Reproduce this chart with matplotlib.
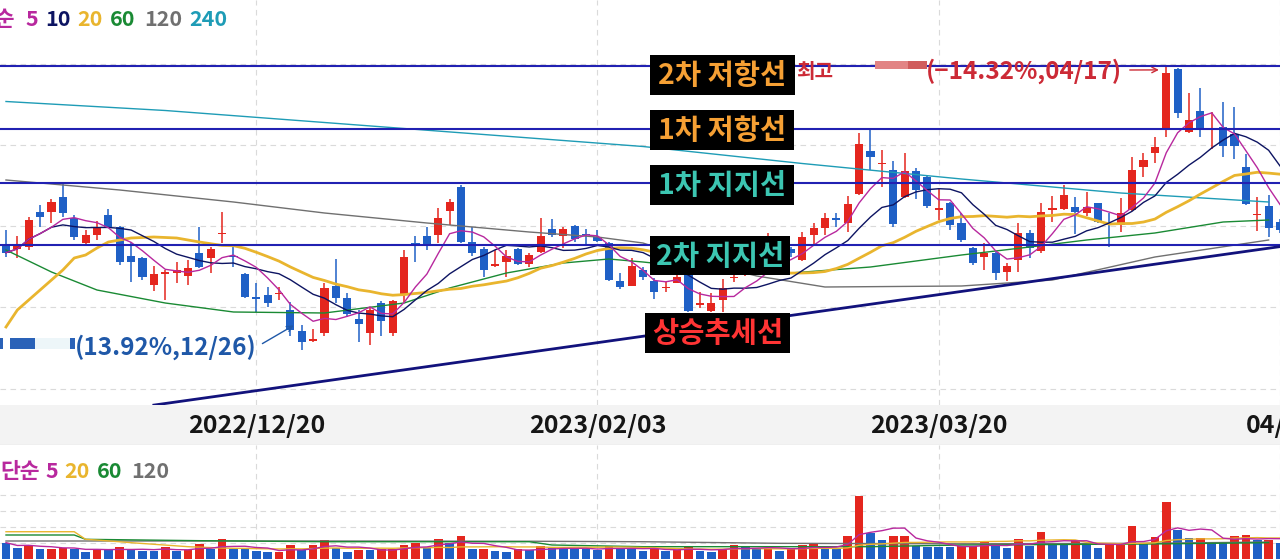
import numpy as np
import pandas as pd
import matplotlib
matplotlib.use("Agg")
import matplotlib.pyplot as plt
from matplotlib.patches import Rectangle
from matplotlib.lines import Line2D
from matplotlib.transforms import blended_transform_factory

plt.rcParams['font.family'] = ['Noto Sans CJK KR', 'DejaVu Sans']

# daily candles, trading-day index 0..112
opens = [9680, 9627, 9647, 10003, 10003, 10153, 9943, 9687, 9770, 9970,
         9853, 9560, 9537, 9270, 9380, 9387, 9360, 9593, 9537, 9777,
         9560, 9380, 9147, 9170, 9180, 9020, 8813, 8713, 8787, 9260,
         9137, 8930, 8787, 9087, 8787, 9170, 9693, 9763, 9770, 10013,
         10247, 9703, 9627, 9460, 9503, 9627, 9480, 9603, 9827, 9760,
         9860, 9780, 9753, 9693, 9310, 9263, 9420, 9313, 9237, 9293,
         9387, 9070, 9013, 9120, 9337, 9387, 9453, 9420, 9537, 9627,
         9520, 9770, 9837, 9937, 9893, 10180, 10613, 10480, 10420, 10153,
         10413, 10347, 10020, 10087, 9893, 9637, 9553, 9587, 9403, 9520,
         9793, 9613, 10020, 10027, 10047, 9987, 10087, 9893, 9870, 10020,
         10453, 10593, 10827, 11427, 10803, 11013, 10820, 10853, 10780, 10447,
         9970, 10060, 9900]
highs = [9820, 9760, 9953, 10070, 10127, 10280, 9970, 9820, 9913, 10027,
         9860, 9703, 9547, 9460, 9420, 9503, 9520, 9853, 9653, 10003,
         9670, 9387, 9287, 9253, 9253, 9103, 8870, 8827, 9287, 9527,
         9193, 9020, 9053, 9113, 9120, 9620, 9760, 9853, 10037, 10127,
         10270, 9847, 9647, 9620, 9620, 9637, 9587, 9943, 9927, 9853,
         9870, 9827, 9820, 9703, 9387, 9537, 9453, 9337, 9303, 9387,
         9420, 9203, 9187, 9327, 9387, 9487, 9520, 9787, 9670, 9653,
         9803, 9893, 9987, 9993, 10160, 10787, 10820, 10620, 10513, 10587,
         10437, 10360, 10227, 10103, 9987, 9653, 9687, 9603, 9493, 9893,
         9820, 10087, 10160, 10270, 10153, 10203, 10093, 9987, 10137, 10547,
         10587, 10747, 11461, 11437, 11193, 11237, 11003, 11103, 11053, 10580,
         10147, 10170, 9930]
lows = [9547, 9537, 9620, 9853, 9893, 9953, 9720, 9660, 9720, 9837,
        9470, 9303, 9320, 9213, 9120, 9287, 9270, 9437, 9387, 9687,
        9447, 9137, 9003, 9053, 9120, 8760, 8620, 8703, 8760, 9087,
        8953, 8703, 8670, 8760, 8760, 9103, 9503, 9620, 9687, 9870,
        9687, 9560, 9353, 9453, 9353, 9470, 9453, 9593, 9753, 9637,
        9703, 9680, 9703, 9313, 9230, 9263, 9320, 9127, 9203, 9287,
        9003, 9037, 9003, 9003, 9303, 9360, 9387, 9403, 9520, 9553,
        9513, 9680, 9770, 9853, 9803, 10170, 10420, 10253, 9853, 10137,
        10127, 10037, 9920, 9820, 9703, 9470, 9420, 9320, 9313, 9403,
        9537, 9587, 9903, 10020, 9777, 9960, 9887, 9647, 9803, 10013,
        10353, 10493, 10753, 10937, 10793, 10747, 10627, 10553, 10527, 10070,
        9813, 9753, 9790]
closes = [9593, 9670, 9920, 9953, 10103, 9987, 9753, 9770, 9853, 9853,
          9503, 9503, 9347, 9380, 9403, 9420, 9437, 9447, 9627, 9787,
          9547, 9147, 9127, 9093, 9193, 8820, 8703, 8727, 9237, 9137,
          8980, 8880, 9020, 8913, 9110, 9553, 9660, 9660, 9943, 10097,
          9703, 9593, 9420, 9477, 9560, 9480, 9570, 9760, 9770, 9827,
          9730, 9767, 9713, 9320, 9247, 9460, 9347, 9203, 9253, 9347,
          9013, 9087, 9087, 9237, 9353, 9453, 9420, 9537, 9620, 9587,
          9753, 9837, 9937, 9920, 10080, 10680, 10547, 10493, 9880, 10413,
          10220, 10060, 10037, 9870, 9720, 9493, 9587, 9387, 9460, 9787,
          9637, 10003, 10037, 10170, 10003, 10047, 9903, 9870, 9987, 10420,
          10520, 10647, 11387, 10987, 10920, 10827, 10837, 10660, 10660, 10080,
          9980, 9837, 9820]
volumes = [204, 134, 175, 125, 128, 134, 125, 91, 125, 112,
           146, 121, 104, 101, 154, 104, 112, 184, 121, 246,
           125, 122, 104, 88, 91, 171, 112, 171, 237, 134,
           91, 112, 109, 121, 125, 171, 204, 134, 246, 196,
           287, 121, 125, 104, 91, 125, 112, 162, 134, 130,
           125, 121, 112, 166, 134, 130, 104, 125, 104, 112,
           162, 104, 91, 121, 175, 162, 125, 129, 104, 125,
           175, 184, 134, 130, 287, 787, 329, 237, 287, 291,
           166, 154, 150, 146, 162, 166, 216, 162, 134, 246,
           166, 341, 196, 192, 237, 175, 141, 175, 179, 412,
           184, 271, 716, 362, 259, 262, 216, 204, 291, 300,
           237, 241, 200]

ma20_head_idx = [0, 1, 3, 5, 6, 7, 8, 9, 11, 13, 15, 17]
ma20_head = [8850, 9020, 9220, 9420, 9540, 9570, 9640, 9700, 9740, 9750, 9740, 9700]
ma60_idx = [0, 4, 8, 14, 20, 28, 35, 39, 44, 49, 53, 56, 61, 69, 76, 84, 90, 95, 101, 107, 111]
ma60 = [9620, 9400, 9220, 9090, 9000, 8990, 9090, 9240, 9390, 9490, 9530, 9500, 9440,
        9390, 9450, 9570, 9650, 9720, 9790, 9900, 9920]
ma120_idx = [0, 10, 20, 28, 37, 46, 52, 56, 61, 66, 72, 84, 92, 101, 111]
ma120 = [10320, 10220, 10100, 9990, 9890, 9800, 9750, 9690, 9500, 9360, 9250, 9260, 9320, 9550, 9720]
ma240_idx = [0, 14, 28, 42, 56, 70, 84, 98, 111]
ma240 = [11105, 11015, 10895, 10775, 10655, 10485, 10330, 10190, 10100]

vma20_head_idx = [0, 6, 7, 8, 11, 16]
vma20_head = [341, 341, 246, 237, 204, 154]
vma60_idx = [0, 6, 7, 17, 28, 46, 48, 56, 76, 84, 100, 111]
vma60 = [300, 300, 246, 229, 216, 216, 175, 154, 154, 175, 187, 204]
vma120_idx = [0, 28, 46, 56, 68, 84, 100, 111]
vma120 = [225, 225, 222, 216, 196, 190, 196, 212]

tick_idx = [22, 52, 82, 112]
tick_lbl = ["2022/12/20", "2023/02/03", "2023/03/20", "04/28"]

level_names = ["2차 저항선", "1차 저항선", "1차 지지선", "2차 지지선"]
level_prices = [11460, 10830, 10290, 9670]
trend_idx = [13, 112]
trend_prices = [8069, 9654]

high_idx, low_idx = 102, 26
price_grid = [11480, 10670, 9860, 9050, 8230]
vol_grid = [200, 400, 600, 800]

RED, BLUE = "#e4261e", "#1f60c6"
C_MA5, C_MA10, C_MA20 = "#b8289e", "#0d1462", "#e9b52e"
C_MA60, C_MA120, C_MA240 = "#1a8a34", "#707070", "#1e9cb6"
C_LEVEL, C_TREND = "#2121b2", "#12127c"

W, H = 1280, 559
fig = plt.figure(figsize=(W / 100, H / 100), dpi=100)


def fx(p):
    return p / W


def fy(p):
    return 1 - p / H


ax = fig.add_axes([0, fy(405), 1, 405 / H])
axv = fig.add_axes([0, 0, 1, 114 / H])
xlim = (-6 / 11.4, (W - 6) / 11.4)

o, hi, lo, c = map(np.array, (opens, highs, lows, closes))
v = np.array(volumes)
n = len(c)
idx = np.arange(n)

# ---- price panel ----
col = np.where(c >= o, RED, BLUE)
ax.vlines(idx, lo, hi, colors=col, lw=1.1, zorder=2)
ax.bar(idx, np.maximum(np.abs(c - o), 14), bottom=np.minimum(o, c),
       width=0.72, color=col, lw=0, zorder=2)

cs = pd.Series(c, dtype=float)
ma5 = cs.rolling(5, min_periods=1).mean()
ma10 = cs.rolling(10, min_periods=1).mean()
ma20_tail = cs.rolling(20).mean()
ma20_x = ma20_head_idx + list(idx[19:])
ma20_y = ma20_head + list(ma20_tail[19:])

ax.plot(ma240_idx, ma240, color=C_MA240, lw=1.0, zorder=3)
ax.plot(ma120_idx, ma120, color=C_MA120, lw=1.0, zorder=3)
ax.plot(ma60_idx, ma60, color=C_MA60, lw=1.0, zorder=3)
ax.plot(ma20_x, ma20_y, color=C_MA20, lw=2.0, zorder=3)
ax.plot(idx, ma10, color=C_MA10, lw=1.0, zorder=3)
ax.plot(idx, ma5, color=C_MA5, lw=1.0, zorder=3)

for p in level_prices:
    ax.axhline(p, color=C_LEVEL, lw=1.5, zorder=4)
ax.plot(trend_idx, trend_prices, color=C_TREND, lw=2.0, zorder=4)

ax.set_xlim(*xlim)
ax.set_ylim(8070, 12120)

# ---- volume panel ----
vol_up = np.r_[False, v[1:] > v[:-1]]
axv.bar(idx, v, width=0.76, color=np.where(vol_up, RED, BLUE), lw=0, zorder=2)
vs = pd.Series(v, dtype=float)
vma5 = vs.rolling(5, min_periods=1).mean()
vma20_tail = vs.rolling(20).mean()
axv.plot(vma120_idx, vma120, color=C_MA120, lw=1.0, zorder=3)
axv.plot(vma60_idx, vma60, color=C_MA60, lw=1.0, zorder=3)
axv.plot(vma20_head_idx + list(idx[19:]), vma20_head + list(vma20_tail[19:]),
         color=C_MA20, lw=1.0, zorder=3)
axv.plot(idx, vma5, color=C_MA5, lw=1.0, zorder=3)
axv.set_xlim(*xlim)
axv.set_ylim(0, 1425)

for a, yt in ((ax, price_grid), (axv, vol_grid)):
    a.set_xticks(tick_idx)
    a.set_yticks(yt)
    a.grid(True, color="#dadada", lw=0.8, ls=(0, (5, 4)))
    a.set_axisbelow(True)
    a.tick_params(length=0, labelleft=False, labelbottom=False)
    for s in a.spines.values():
        s.set_visible(False)

# date strip between the panels
fig.add_artist(Rectangle((0, fy(445)), 1, 40 / H, transform=fig.transFigure,
                         color="#f3f3f3", lw=0, zorder=-1))
fig.add_artist(Line2D([0, 1], [fy(445)] * 2, color="#e2e2e2", lw=1, zorder=-1))
dtrans = blended_transform_factory(ax.transData, fig.transFigure)
for k, lbl in zip(tick_idx, tick_lbl):
    fig.text(0, fy(426), lbl, transform=dtrans, ha="center", va="center",
             fontsize=18, fontweight="bold", color="#161616", zorder=5).set_x(k)

# moving-average legends
for txt, color, x in [("단순", C_MA5, 15), ("5", C_MA5, 25), ("10", C_MA10, 45),
                      ("20", C_MA20, 77), ("60", C_MA60, 110),
                      ("120", C_MA120, 144), ("240", C_MA240, 189)]:
    fig.text(fx(x), fy(20), txt, color=color, fontsize=15.5, fontweight="bold",
             va="center", ha="right" if txt == "단순" else "left")
for txt, color, x in [("단순", C_MA5, 0), ("5", C_MA5, 45), ("20", C_MA20, 64),
                      ("60", C_MA60, 97), ("120", C_MA120, 131)]:
    fig.text(fx(x), fy(472), txt, color=color, fontsize=15.5, fontweight="bold",
             va="center")

# high / low annotations
pct_hi = (c[-1] - hi[high_idx]) / hi[high_idx] * 100
pct_lo = (c[-1] - lo[low_idx]) / lo[low_idx] * 100
fig.text(fx(796), fy(72), "최고", color="#cc2a36", fontsize=14.5, fontweight="bold",
         va="center")
fig.text(fx(926), fy(71), f"(\u2212{abs(pct_hi):.2f}%,04/17)", color="#cc2a36",
         fontsize=17.5, fontweight="bold", va="center")
fig.add_artist(Rectangle((fx(875), fy(69)), 33 / W, 8 / H, transform=fig.transFigure,
                         color="#e28484", lw=0))
fig.add_artist(Rectangle((fx(908), fy(69)), 19 / W, 8 / H, transform=fig.transFigure,
                         color="#d05c5c", lw=0))
ax.annotate("", xy=(high_idx - 0.4, hi[high_idx] - 40), xytext=(fx(1127), fy(70)),
            textcoords="figure fraction",
            arrowprops=dict(arrowstyle="->", color="#cc2a36", lw=1.0))

fig.text(fx(75), fy(347), f"({pct_lo:.2f}%,12/26)", color="#1f58a8",
         fontsize=17.5, fontweight="bold", va="center")
for x0, x1, color in [(0, 3, "#2a62b8"), (10, 35, "#2a62b8"), (35, 70, "#edf6f9"),
                      (70, 75, "#2a62b8")]:
    fig.add_artist(Rectangle((fx(x0), fy(349)), (x1 - x0) / W, 11 / H,
                             transform=fig.transFigure, color=color, lw=0))
ax.annotate("", xy=(low_idx - 0.5, lo[low_idx] + 260), xytext=(fx(260), fy(345)),
            textcoords="figure fraction",
            arrowprops=dict(arrowstyle="->", color="#1f58a8", lw=1.0))

# line labels on black boxes
boxes = [(level_names[0], "#f6a034", 650, 55, 795, 95),
         (level_names[1], "#f6a034", 650, 110, 794, 150),
         (level_names[2], "#3cc6b2", 650, 165, 794, 205),
         (level_names[3], "#3cc6b2", 650, 236, 790, 275),
         ("상승추세선", "#ff3434", 645, 313, 790, 353)]
for txt, color, x0, y0, x1, y1 in boxes:
    fig.add_artist(Rectangle((fx(x0), fy(y1)), (x1 - x0) / W, (y1 - y0) / H,
                             transform=fig.transFigure, color="black", lw=0, zorder=5))
    fig.text(fx((x0 + x1) / 2), fy((y0 + y1) / 2 + 1), txt, color=color, fontsize=20.5,
             fontweight="bold", ha="center", va="center", zorder=6)

fig.savefig("out.png", dpi=100)
